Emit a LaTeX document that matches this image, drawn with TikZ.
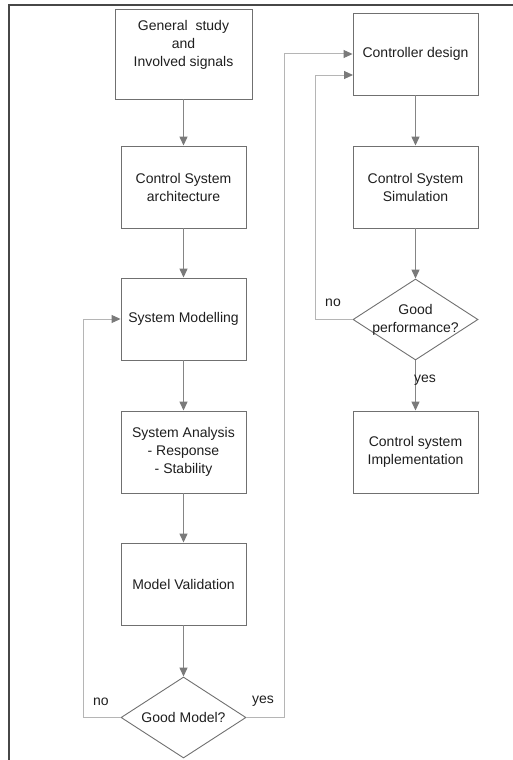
\documentclass[tikz,border=0pt]{standalone}
\usepackage{fontspec}
\setmainfont{Liberation Sans}
\usetikzlibrary{arrows.meta,shapes.geometric}
\definecolor{edgegray}{HTML}{707070}
\definecolor{flowgray}{HTML}{858585}
\definecolor{backgray}{HTML}{B5B5B5}
\definecolor{tipgray}{HTML}{7A7A7A}
\definecolor{inkgray}{HTML}{1E1E1E}
\tikzset{
	txt/.style={text=inkgray, font=\fontsize{14}{18}\selectfont, align=center, inner sep=0pt},
	box/.style={txt, draw=edgegray, line width=0.9pt, minimum width=125pt, minimum height=82pt},
	decision/.style={diamond, draw=edgegray, line width=0.9pt, minimum width=125pt, minimum height=81pt, inner sep=0pt},
	flow/.style={draw=flowgray, line width=1.3pt, -{Triangle[length=9pt,width=8pt,color=tipgray]}},
	back/.style={draw=backgray, line width=1pt, -{Triangle[length=9pt,width=8pt,color=tipgray]}},
	lbl/.style={txt}
}

\begin{document}
\begin{tikzpicture}[x=1pt, y=-1pt]
		%%%%% START %%%%%
		\useasboundingbox (0, 0) rectangle (513, 760);
		
		\draw[line width=2pt, color=black!72] (9, 770) -- (9, 5) -- (520, 5);
		
		% left column
		\node[box, minimum width=137pt, minimum height=90pt, label={[txt, yshift=9pt]center:General\ \ study\\and\\Involved signals}] (study) at (183.5, 54) {};
		\node[box] (arch) at (183.5, 187) {Control System\\architecture};
		\node[box] (modelling) at (183.5, 319) {System Modelling};
		\node[box] (analysis) at (183.5, 452) {System Analysis\\- Response\\- Stability};
		\node[box] (validation) at (183.5, 584) {Model Validation};
		\node[decision, label={[txt]center:Good Model?}] (okmodel) at (183.5, 717.5) {};
		
		% right column
		\node[box] (ctrl) at (415.5, 54) {Controller design};
		\node[box] (simul) at (415.5, 187) {Control System\\Simulation};
		\node[decision, label={[txt]center:Good\\performance?}] (perf) at (415.5, 319.5) {};
		\node[box] (impl) at (415.5, 452) {Control system\\Implementation};
		
		\coordinate (ctrlin) at (353, 75);
		
		\draw[flow] (study) -- (arch);
		\draw[flow] (arch) -- (modelling);
		\draw[flow] (modelling) -- (analysis);
		\draw[flow] (analysis) -- (validation);
		\draw[flow] (validation) -- (okmodel);
		
		\draw[flow] (ctrl) -- (simul);
		\draw[flow] (simul) -- (perf);
		\draw[flow] (perf) -- (impl);
		
		\draw[back] (okmodel.west) -- (83, 717.5) |- (modelling.west);
		\draw[back] (okmodel.east) -- (284, 717.5) |- (ctrl.west);
		\draw[back] (perf.west) -- (315, 319.5) |- (ctrlin);
		
		\node[lbl] (nomodel) at (101, 702) {no};
		\node[lbl] (yesmodel) at (263, 701) {yes};
		\node[lbl] (noperf) at (333, 303) {no};
		\node[lbl] (yesperf) at (425, 380) {yes};
		
		%%%%% END %%%%%
\end{tikzpicture}
\end{document}
